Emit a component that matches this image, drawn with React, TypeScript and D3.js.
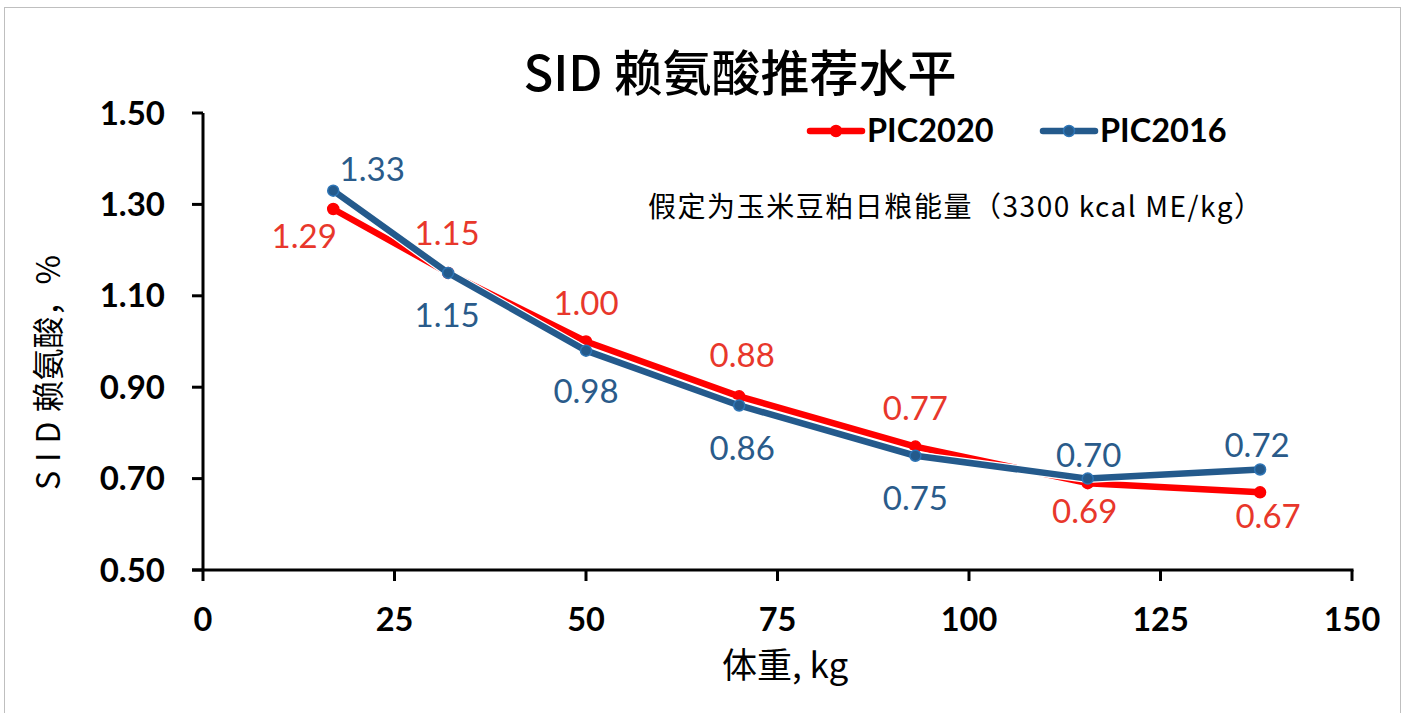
import React from "react";
import * as d3 from "d3";

const bodyWeight = [17, 32, 50, 70, 93, 115.5, 138];
const pic2020 = [1.29, 1.15, 1.0, 0.88, 0.77, 0.69, 0.67];
const pic2016 = [1.33, 1.15, 0.98, 0.86, 0.75, 0.7, 0.72];
const xTicks = [0, 25, 50, 75, 100, 125, 150];
const yTicks = [0.5, 0.7, 0.9, 1.1, 1.3, 1.5];
const seriesNames = ["PIC2020", "PIC2016"];

// label layout offsets (dx from point centre, dy from point to baseline)
const labelOffset2020: [number, number][] = [[-29, 39], [-1, -28], [0, -27], [3, -29], [0, -27], [-3, 40], [8, 36]];
const labelOffset2016: [number, number][] = [[39, -10], [-1, 54], [0, 52], [3, 55], [0, 54], [1, -12], [-3, -12]];

const W = 1405;
const H = 713;
const RED = "#FF0000";
const RED_TXT = "#E8372B";
const BLUE = "#245A8C";
const BLUE_TXT = "#2A5B8A";
const BLUE_EDGE = "#2E75B6";
const NUM_FONT = "Lato, 'Open Sans', sans-serif";
const CJK_FONT = "'Noto Sans CJK SC', 'Noto Sans', sans-serif";

export default function App() {
  const x = d3.scaleLinear().domain([0, 150]).range([203, 1352]);
  const y = d3.scaleLinear().domain([0.5, 1.5]).range([570, 113]);
  const line = d3
    .line<number>()
    .x((_, i) => x(bodyWeight[i]))
    .y((d) => y(d));

  const series = [
    { name: seriesNames[0], values: pic2020, color: RED, txt: RED_TXT, offs: labelOffset2020, edge: RED },
    { name: seriesNames[1], values: pic2016, color: BLUE, txt: BLUE_TXT, offs: labelOffset2016, edge: BLUE_EDGE },
  ];

  const legendX = [810, 1043];

  return (
    <svg
      width={W}
      height={H}
      style={{ position: "absolute", left: 0, top: 0, background: "#fff" }}
    >
      <rect x={4.5} y={7.5} width={1396} height={730} fill="#fff" stroke="#BFBFBF" strokeWidth={1} />

      {/* Title */}
      <text x={740} y={91} textAnchor="middle" fontFamily={CJK_FONT} fontSize={49} fontWeight={500} fill="#000">
        SID 赖氨酸推荐水平
      </text>

      {/* Y axis */}
      <line x1={x(0)} x2={x(0)} y1={y(1.5)} y2={y(0.5)} stroke="#000" strokeWidth={3} />
      {yTicks.map((t) => (
        <g key={"y" + t}>
          <line x1={x(0) - 11} x2={x(0)} y1={y(t)} y2={y(t)} stroke="#000" strokeWidth={3} />
          <text
            x={165}
            y={y(t) + 11.5}
            textAnchor="end"
            fontFamily={NUM_FONT}
            fontWeight={700}
            fontSize={33}
            fill="#000"
          >
            {t.toFixed(2)}
          </text>
        </g>
      ))}

      {/* X axis */}
      <line x1={x(0) - 11} x2={x(150) + 1.5} y1={y(0.5)} y2={y(0.5)} stroke="#000" strokeWidth={3} />
      {xTicks.map((t) => (
        <g key={"x" + t}>
          <line x1={x(t)} x2={x(t)} y1={y(0.5)} y2={y(0.5) + 11} stroke="#000" strokeWidth={3} />
          <text
            x={x(t)}
            y={631}
            textAnchor="middle"
            fontFamily={NUM_FONT}
            fontWeight={700}
            fontSize={32.5}
            fill="#000"
          >
            {t}
          </text>
        </g>
      ))}

      {/* Axis titles */}
      <text
        x={785}
        y={678}
        textAnchor="middle"
        fontFamily={CJK_FONT}
        fontSize={35}
        fill="#000"
      >
        体重, kg
      </text>
      <text
        transform="translate(60,490) rotate(-90)"
        textAnchor="start"
        fontFamily={CJK_FONT}
        fontSize={32}
        fill="#000"
      >
        <tspan letterSpacing={9}>SID</tspan>
        <tspan>赖氨酸，%</tspan>
      </text>

      {/* Lines */}
      {series.map((s, si) => (
        <g key={s.name}>
          {si === 1 && (
            <path d={line(s.values) || ""} fill="none" stroke="#fff" strokeWidth={9} strokeLinejoin="round" />
          )}
          <path d={line(s.values) || ""} fill="none" stroke={s.color} strokeWidth={6.5} strokeLinejoin="round" />
          {s.values.map((v, i) => (
            <circle
              key={i}
              cx={x(bodyWeight[i])}
              cy={y(v)}
              r={5.5}
              fill={s.color}
              stroke={s.edge}
              strokeWidth={1.5}
            />
          ))}
        </g>
      ))}

      {/* Data labels */}
      {series.map((s) =>
        s.values.map((v, i) => (
          <text
            key={s.name + "l" + i}
            x={x(bodyWeight[i]) + s.offs[i][0]}
            y={y(v) + s.offs[i][1]}
            textAnchor="middle"
            fontFamily={NUM_FONT}
            fontSize={33}
            fill={s.txt}
          >
            {v.toFixed(2)}
          </text>
        ))
      )}

      {/* Legend */}
      {series.map((s, si) => (
        <g key={"lg" + si}>
          <line
            x1={legendX[si]}
            x2={legendX[si] + 52}
            y1={131}
            y2={131}
            stroke={s.color}
            strokeWidth={6.5}
            strokeLinecap="round"
          />
          <circle cx={legendX[si] + 26} cy={131} r={5.5} fill={s.color} stroke={s.edge} strokeWidth={1.5} />
          <text
            x={legendX[si] + 57}
            y={142}
            fontFamily={NUM_FONT}
            fontWeight={700}
            fontSize={32.5}
            fill="#000"
          >
            {s.name}
          </text>
        </g>
      ))}

      {/* Annotation */}
      <text
        x={648}
        y={217}
        fontFamily={CJK_FONT}
        fontSize={28}
        fill="#000"
        textLength={614}
        lengthAdjust="spacing"
      >
        假定为玉米豆粕日粮能量（3300 kcal ME/kg）
      </text>
    </svg>
  );
}
